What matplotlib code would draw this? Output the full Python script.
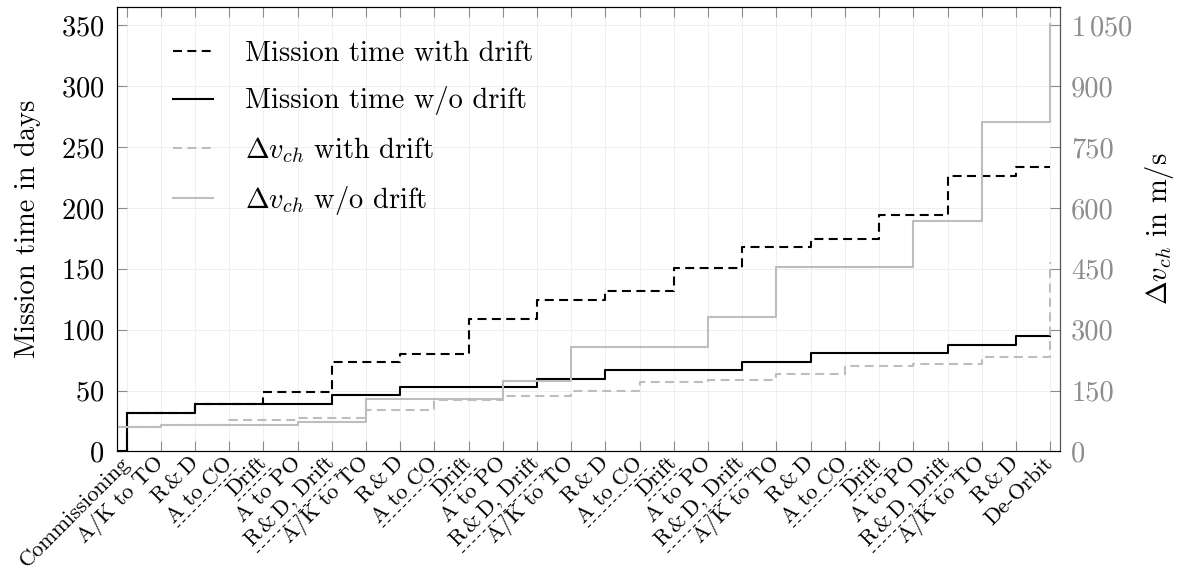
import numpy as np
import matplotlib
matplotlib.use('Agg')
import matplotlib.pyplot as plt
from matplotlib.lines import Line2D

plt.rcParams['font.family'] = 'serif'
plt.rcParams['font.serif'] = ['cmr10']
plt.rcParams['mathtext.fontset'] = 'cm'
plt.rcParams['axes.unicode_minus'] = False
plt.rcParams['axes.formatter.use_mathtext'] = True
plt.rcParams['font.size'] = 20.5

# mission phases (x tick labels)
RD = r'R$\,$&$\,$D'
cycle = [RD, 'A to CO', 'Drift', 'A to PO', RD + ', Drift', 'A/K to TO']
phases = ['Commissioning', 'A/K to TO'] + cycle * 4 + [RD, 'De-Orbit']

# mission time in days (value after each phase)
time_drift = [32, 32, 39, 39, 48.5, 48.5, 73.2, 73.2, 80.3, 80.3, 109, 109,
              124.6, 124.6, 131.4, 131.4, 150.6, 150.6, 167.8, 167.8, 174.9, 174.9,
              194.3, 194.3, 226.3, 226.3, 233.6, 233.6]
time_nodrift = [32, 32, 39, 39, 39, 39, 46, 46, 52.7, 52.7, 52.7, 52.7,
                59.5, 59.5, 66.6, 66.6, 66.6, 66.6, 73.5, 73.5, 80.6, 80.6,
                80.6, 80.6, 87.7, 87.7, 94.7, 94.7]

# delta-v in m/s (value after each phase)
dv_start = 60
dv_drift = [60, 65, 65, 77, 77, 82, 82, 103, 103, 128, 128, 136,
            136, 150, 150, 171, 171, 176, 176, 190, 190, 210,
            210, 215, 215, 232, 232, 468]
dv_nodrift = [60, 65, 65, 65, 65, 73, 73, 130, 130, 130, 130, 173,
              173, 258, 258, 258, 258, 332, 332, 454, 454, 454,
              454, 568, 568, 812, 812, 1052]

x = np.arange(len(phases))


def stairs(a, start, vals, **kw):
    xs = np.r_[x[0] - 1, x]
    ys = np.r_[start, vals]
    return a.step(xs, ys, where='post', **kw)[0]


fig = plt.figure(figsize=(11.92, 5.7), dpi=100)
ax = fig.add_axes([0.0979, 0.2079, 0.7914, 0.7798])
ax2 = ax.twinx()

BLACK = 'black'
GRAY = '#bdbdbd'
dash = (4.3, 2.6)

l1 = stairs(ax, 0, time_drift, color=BLACK, lw=1.5, ls=(0, dash))
l2 = stairs(ax, 0, time_nodrift, color=BLACK, lw=1.5)
l3 = stairs(ax2, dv_start, dv_drift, color=GRAY, lw=1.5, ls=(0, dash))
l4 = stairs(ax2, dv_start, dv_nodrift, color=GRAY, lw=1.5)

ax.set_xlim(-0.29, 27.29)
ax.set_ylim(0, 365)
ax2.set_ylim(0, 1095)

ax.set_yticks(np.arange(0, 351, 50))
ax2.set_yticks(np.arange(0, 1051, 150))
ax2.set_yticklabels([str(v) for v in range(0, 901, 150)] + [r'$1\,050$'])

ax.set_xticks(x)
ax.set_xticklabels(phases, rotation=45, ha='right', va='center',
                   rotation_mode='anchor', fontsize=16)

ax.grid(True, color='#efefef', lw=0.7)
ax.set_axisbelow(True)

ax.tick_params(axis='x', direction='in', length=7, top=True, color='#8a8a8a',
               width=0.8, pad=6)
ax.tick_params(axis='y', direction='in', length=7, color='#8a8a8a',
               width=0.8, pad=9)
ax2.tick_params(axis='y', direction='in', length=7, color='#8a8a8a',
                width=0.8, pad=8, labelcolor='#8c8c8c')

for s in ['left', 'bottom', 'top']:
    ax.spines[s].set_color('#222222')
ax2.spines['right'].set_color('#555555')

ax.set_ylabel('Mission time in days', labelpad=14)
ax2.set_ylabel(r'$\Delta v_{ch}$ in m/s', labelpad=7)

ax2.legend([l1, l2, l3, l4],
           ['Mission time with drift', 'Mission time w/o drift',
            r'$\Delta v_{ch}$ with drift', r'$\Delta v_{ch}$ w/o drift'],
           loc='upper left', bbox_to_anchor=(0.0597, 0.924), frameon=False,
           borderpad=0, borderaxespad=0, handlelength=1.4,
           handletextpad=1.12, labelspacing=0.68)

# dashed underline for drift-related phases
fig.canvas.draw()
r = fig.canvas.get_renderer()
inv = fig.transFigure.inverted()
for lab in ax.get_xticklabels():
    t = lab.get_text()
    if 'Drift' not in t and 'CO' not in t:
        continue
    bb = lab.get_window_extent(r)
    tmp = fig.text(0, 0, t, fontsize=lab.get_fontsize())
    h = tmp.get_window_extent(r).height
    tmp.remove()
    c = 0.7071
    off = 1.5
    p1 = (bb.x0 + h * c + off * c, bb.y0 - off * c)
    p2 = (bb.x1 + off * c, bb.y1 - h * c - off * c)
    q = inv.transform([p1, p2])
    fig.add_artist(Line2D(q[:, 0], q[:, 1], transform=fig.transFigure,
                          color='black', lw=0.8, ls=(0, (3.5, 3))))

fig.savefig('out.png', dpi=100)
